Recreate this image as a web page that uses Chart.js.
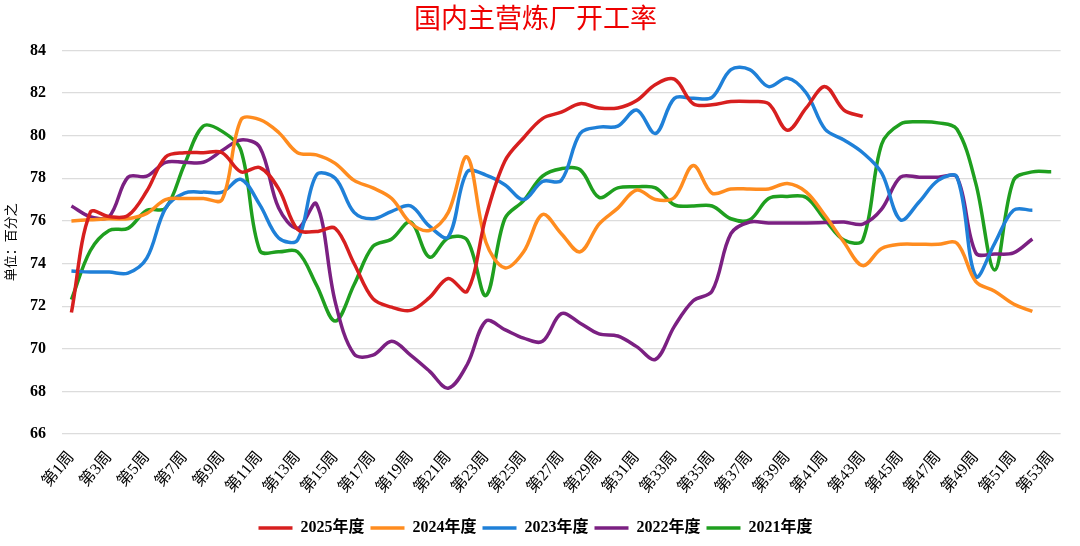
<!DOCTYPE html>
<html>
<head>
<meta charset="utf-8">
<script src="https://cdn.jsdelivr.net/npm/chart.js@4/dist/chart.umd.min.js"></script>
<style>
  html, body { margin: 0; padding: 0; background: #fff; }
  #wrap { width: 1080px; height: 546px; }
</style>
</head>
<body>
<div id="wrap"><canvas id="chart"></canvas></div>
<script>
// 周次
const weeks = [];
for (let i = 1; i <= 53; i++) weeks.push('第' + i + '周');

const yTicks = [66, 68, 70, 72, 74, 76, 78, 80, 82, 84];

// 各年度开工率（%）
const v2025 = [71.7, 76.4, 76.2, 76.25, 77.4, 79.0, 79.2, 79.2, 79.2, 78.3,
  78.5, 77.5, 75.6, 75.5, 75.65, 74.0, 72.35, 71.95, 71.8, 72.4,
  73.3, 72.7, 76.2, 78.8, 79.9, 80.8, 81.1, 81.5, 81.3, 81.3,
  81.65, 82.4, 82.65, 81.5, 81.45, 81.6, 81.6, 81.5, 80.25, 81.3,
  82.3, 81.2, 80.9];
const v2024 = [76.0, 76.05, 76.1, 76.1, 76.35, 77.0, 77.05, 77.05, 77.0, 80.75,
  80.75, 80.15, 79.2, 79.1, 78.7, 77.9, 77.55, 77.05, 75.9, 75.55,
  76.4, 79.0, 75.0, 73.8, 74.55, 76.3, 75.4, 74.55, 75.85, 76.6,
  77.45, 77.0, 77.1, 78.6, 77.3, 77.5, 77.5, 77.5, 77.75, 77.35,
  76.25, 75.0, 73.9, 74.7, 74.9, 74.9, 74.9, 74.95, 73.15, 72.7,
  72.1, 71.75];
const v2023 = [73.65, 73.6, 73.6, 73.55, 74.25, 76.6, 77.3, 77.35, 77.35, 77.95,
  76.75, 75.2, 75.1, 78.15, 78.0, 76.4, 76.1, 76.45, 76.7, 75.75,
  75.25, 78.3, 78.15, 77.7, 77.0, 77.85, 77.9, 80.1, 80.4, 80.45,
  81.2, 80.1, 81.75, 81.75, 81.8, 83.1, 83.1, 82.3, 82.7, 82.0,
  80.3, 79.8, 79.2, 78.25, 76.05, 76.9, 77.9, 78.05, 73.4, 74.95,
  76.5, 76.5];
const v2022 = [76.7, 76.2, 76.2, 78.05, 78.1, 78.75, 78.75, 78.75, 79.3, 79.8,
  79.45, 76.6, 75.65, 76.8, 72.2, 69.75, 69.7, 70.35, 69.7, 68.95,
  68.15, 69.25, 71.3, 70.9, 70.5, 70.35, 71.65, 71.2, 70.7, 70.6,
  70.1, 69.5, 71.05, 72.25, 72.7, 75.4, 75.95, 75.9, 75.9, 75.9,
  75.92, 75.95, 75.85, 76.55, 78.05, 78.05, 78.05, 78.05, 74.5, 74.45,
  74.5, 75.15];
const v2021 = [72.3, 74.6, 75.55, 75.65, 76.5, 76.6, 78.65, 80.45, 80.2, 79.3,
  74.6, 74.55, 74.55, 73.0, 71.3, 73.0, 74.8, 75.15, 75.95, 74.3,
  75.2, 75.1, 72.5, 76.1, 76.95, 78.1, 78.45, 78.4, 77.1, 77.55,
  77.6, 77.55, 76.75, 76.7, 76.7, 76.1, 76.05, 77.05, 77.15, 77.1,
  76.05, 75.1, 75.1, 79.6, 80.55, 80.65, 80.6, 80.3, 77.75, 73.7,
  77.9, 78.3, 78.3];

const seriesNames = ['2025年度', '2024年度', '2023年度', '2022年度', '2021年度'];
const seriesColors = ['#d71f1f', '#ff8c1f', '#1f80d8', '#7b2082', '#1f9f1f'];
const seriesValues = [v2025, v2024, v2023, v2022, v2021];

const serif = "'Liberation Serif', 'Noto Sans CJK SC', serif";

const datasets = seriesNames.map((name, i) => ({
  label: name,
  data: seriesValues[i],
  borderColor: seriesColors[i],
  backgroundColor: seriesColors[i],
  borderWidth: 3.5,
  pointRadius: 0,
  pointHoverRadius: 0,
  pointStyle: 'line',
  tension: 0.35,
  fill: false
}));

new Chart(document.getElementById('chart'), {
  type: 'line',
  data: { labels: weeks, datasets },
  options: {
    responsive: true,
    maintainAspectRatio: false,
    animation: false,
    events: [],
    layout: { padding: { left: 0, right: 9, top: 0, bottom: 0 } },
    plugins: {
      title: {
        display: true,
        text: '国内主营炼厂开工率',
        color: '#ee0000',
        font: { family: "'Noto Sans CJK SC', sans-serif", size: 27, weight: 'normal' },
        padding: { top: 2, bottom: 16 }
      },
      legend: {
        position: 'bottom',
        labels: {
          usePointStyle: true,
          pointStyle: 'line',
          pointStyleWidth: 34,
          padding: 6,
          color: '#000',
          font: { family: serif, size: 16, weight: 'bold' }
        }
      },
      tooltip: { enabled: false }
    },
    scales: {
      x: {
        offset: true,
        grid: { display: false, drawTicks: false },
        border: { display: false },
        afterFit: (scale) => { scale.height = 80; },
        ticks: {
          autoSkip: false,
          maxRotation: 50,
          minRotation: 50,
          padding: 14,
          color: '#000',
          font: { family: serif, size: 16 },
          callback: function (val, idx) {
            return idx % 2 === 0 ? this.getLabelForValue(val) : '';
          }
        }
      },
      y: {
        min: yTicks[0],
        max: yTicks[yTicks.length - 1],
        afterFit: (scale) => { scale.width = 62; },
        afterBuildTicks: (scale) => { scale.ticks = yTicks.map(v => ({ value: v })); },
        grid: { color: '#dcdcdc', lineWidth: 1.2, drawTicks: false },
        border: { display: false },
        title: {
          display: true,
          text: '单位：百分之',
          color: '#000',
          font: { family: "'Noto Sans CJK SC', sans-serif", size: 13 },
          padding: { top: 2, bottom: 0 }
        },
        ticks: {
          padding: 16,
          color: '#000',
          font: { family: serif, size: 16, weight: 'bold' }
        }
      }
    }
  }
});
</script>
</body>
</html>
